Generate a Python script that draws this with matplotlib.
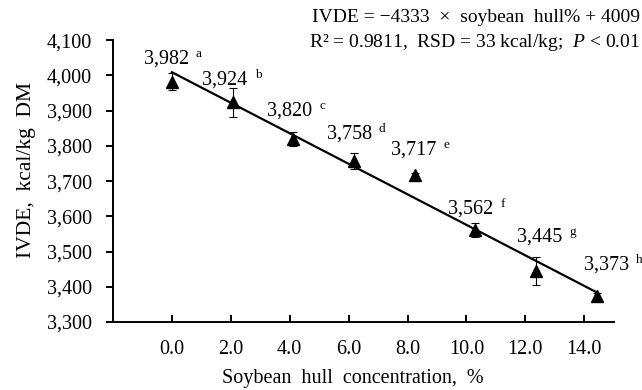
import numpy as np
import matplotlib
matplotlib.use("Agg")
import matplotlib.pyplot as plt

plt.rcParams["font.family"] = ["Liberation Serif", "DejaVu Serif"]
plt.rcParams["mathtext.fontset"] = "custom"
plt.rcParams["mathtext.rm"] = "Liberation Serif"
plt.rcParams["mathtext.it"] = "Liberation Serif:italic"

# ---- data ----
hull_pct = [0.0, 2.06, 4.12, 6.18, 8.24, 10.30, 12.36, 14.42]
ivde = [3982, 3924, 3820, 3758, 3717, 3562, 3445, 3373]
ivde_sd = [24, 41, 20, 23, 5, 20, 40, 8]
letters = ["a", "b", "c", "d", "e", "f", "g", "h"]
tick_pos = [0, 2, 4, 6, 8, 10, 12, 14]
slope, intercept = -4333, 4009

# label offsets in pixels (right edge of number, height above point)
label_off = [(17, 23), (15, 22), (19, 28), (18, 27), (22, 25), (18, 21), (26, 34), (32, 31)]

fig = plt.figure(figsize=(6.42, 3.90), dpi=100)
ax = fig.add_axes([0.176, 0.1744, 0.780, 0.7226])

# fitted line over the tested range
xl = np.array([hull_pct[0], hull_pct[-1]])
ax.plot(xl, intercept + slope * xl / 100, color="black", lw=1.6, zorder=2)

ax.errorbar(hull_pct, ivde, yerr=ivde_sd, fmt="^", color="black",
            ms=8, elinewidth=0.8, capsize=3, capthick=0.8, zorder=3)

for x, y, lab, (dx, dy) in zip(hull_pct, ivde, letters, label_off):
    ax.annotate(f"{y:,}", (x, y), xytext=(dx, dy), textcoords="offset pixels",
                ha="right", va="center", fontsize=14.5, annotation_clip=False)
    ax.annotate(lab, (x, y), xytext=(dx + 7, dy + 5), textcoords="offset pixels",
                ha="left", va="center", fontsize=9.5, annotation_clip=False)

ax.set_xlim(-2, 15)
ax.set_ylim(3300, 4100)
ax.set_xticks(tick_pos)
ax.set_xticklabels([f"{t:.1f}" for t in tick_pos])
ax.set_yticks(np.arange(3300, 4101, 100))
ax.yaxis.set_major_formatter(matplotlib.ticker.StrMethodFormatter("{x:,.0f}"))

for s in ["top", "right"]:
    ax.spines[s].set_visible(False)
for s in ["left", "bottom"]:
    ax.spines[s].set_linewidth(1.4)
ax.tick_params(axis="x", direction="in", length=5, width=1.4, pad=13, labelsize=14.5)
ax.tick_params(axis="y", direction="out", length=5, width=1.4, pad=10, labelsize=14.5)

ax.set_xlabel("Soybean  hull  concentration,  %", fontsize=14.5, labelpad=7)
ax.set_ylabel("IVDE,  kcal/kg  DM", fontsize=15.5, labelpad=8)
ax.xaxis.label.set_x(0.479)
ax.yaxis.label.set_y(0.54)

fig.text(0.997, 0.956, "IVDE = \u22124333  \u00d7  soybean  hull% + 4009",
         ha="right", va="center", fontsize=14)
fig.text(0.997, 0.892, "R\u00b2 = 0.9811,  RSD = 33 kcal/kg;  $P$ < 0.01",
         ha="right", va="center", fontsize=14)

fig.savefig("out.png", dpi=100)
